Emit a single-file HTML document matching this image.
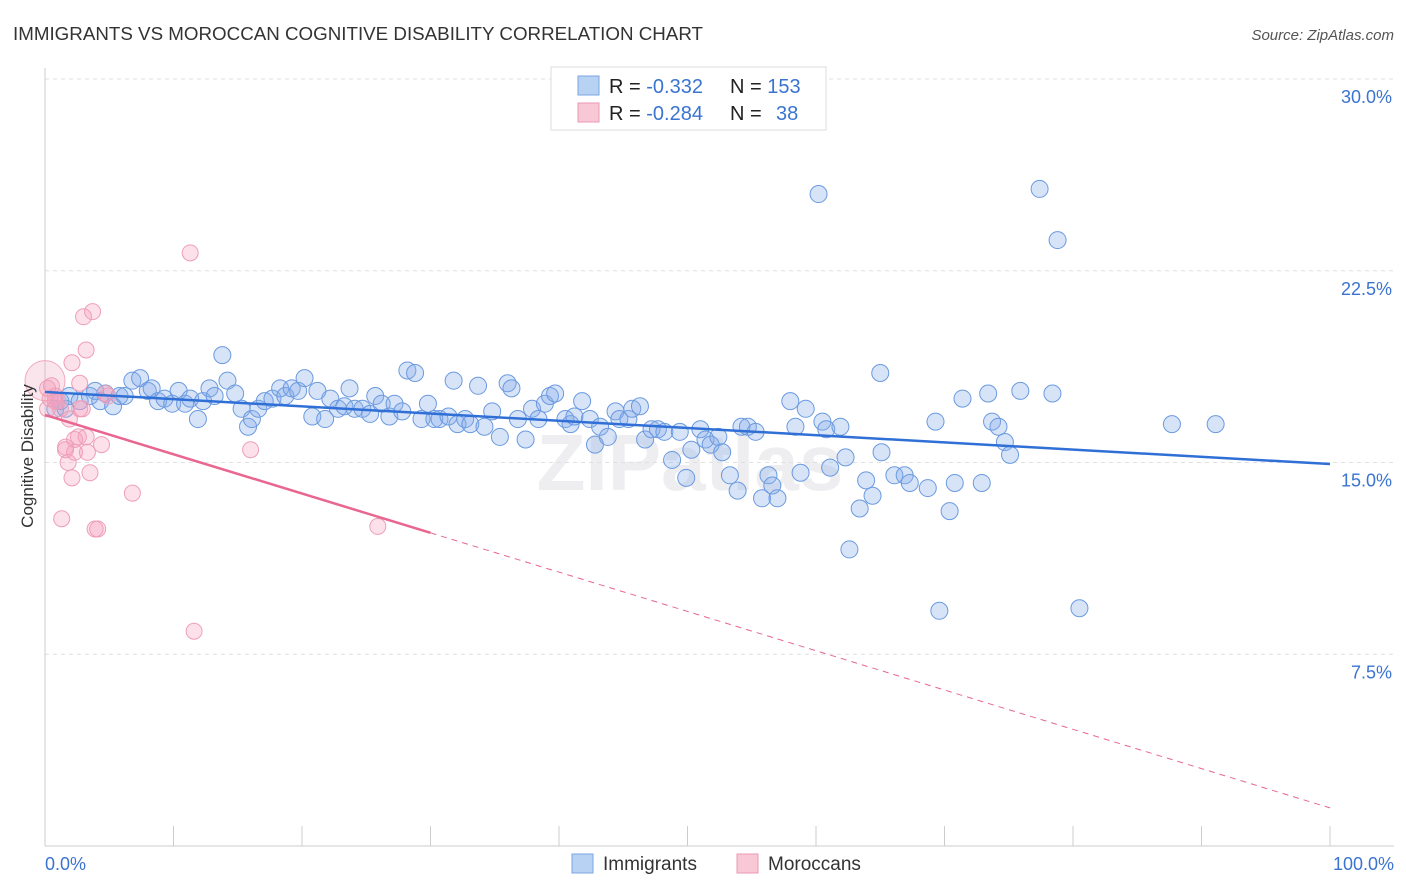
<!DOCTYPE html>
<html><head><meta charset="utf-8"><style>
body{margin:0;background:#fff;font-family:"Liberation Sans",sans-serif;}
svg{display:block}
</style></head><body>
<svg id="chart" width="1406" height="892" xmlns="http://www.w3.org/2000/svg">
<text x="13" y="40" font-size="18" fill="#333" textLength="690" lengthAdjust="spacingAndGlyphs">IMMIGRANTS VS MOROCCAN COGNITIVE DISABILITY CORRELATION CHART</text>
<text x="1394" y="40" font-size="15" fill="#555" font-style="italic" text-anchor="end">Source: ZipAtlas.com</text>
<text x="690" y="490" font-size="80" fill="#eeeef1" text-anchor="middle" font-weight="bold">ZIPatlas</text>
<g id="grid"></g><g id="axes"></g><g id="marks"></g>
<text transform="translate(33,456) rotate(-90)" font-size="17" fill="#333" text-anchor="middle">Cognitive Disability</text>
<text x="45" y="870" font-size="18" fill="#3a74d0">0.0%</text>
<text x="1394" y="870" font-size="18" fill="#3a74d0" text-anchor="end">100.0%</text>
<g>
<rect x="551" y="67" width="275" height="63" fill="#fff" stroke="#ddd"/>
<rect x="578" y="76" width="21" height="19" fill="#b8d2f4" stroke="#7aa6e0"/>
<rect x="578" y="103" width="21" height="19" fill="#f9c8d6" stroke="#ec98b2"/>
<text x="609" y="93" font-size="20" fill="#222">R = <tspan fill="#3a74d0">-0.332</tspan><tspan x="730">N = </tspan><tspan fill="#3a74d0">153</tspan></text>
<text x="609" y="120" font-size="20" fill="#222">R = <tspan fill="#3a74d0">-0.284</tspan><tspan x="730">N = </tspan><tspan x="776" fill="#3a74d0">38</tspan></text>
</g>
<g>
<rect x="572" y="854" width="21" height="19" fill="#b8d2f4" stroke="#7aa6e0"/>
<text x="603" y="870" font-size="19" fill="#333">Immigrants</text>
<rect x="737" y="854" width="21" height="19" fill="#f9c8d6" stroke="#ec98b2"/>
<text x="768" y="870" font-size="19" fill="#333">Moroccans</text>
</g>
</svg>
<script>
const yTicks=[7.5,15,22.5,30];
const yTickLabels=["7.5%","15.0%","22.5%","30.0%"];
const xTicks=[0,10,20,30,40,50,60,70,80,90,100];
const blueX=[0.8,1.2,1.6,1.9,2.7,3.5,3.9,4.3,4.7,5.3,5.8,6.2,6.8,7.4,8.0,8.3,8.8,9.3,9.9,10.4,10.9,11.3,11.9,12.3,12.8,13.2,13.8,14.2,14.8,15.3,15.8,16.1,16.6,17.1,17.7,18.3,18.7,19.2,19.7,20.2,20.8,21.2,21.8,22.2,22.8,23.3,23.7,24.1,24.7,25.3,25.7,26.2,26.8,27.2,27.8,28.2,28.8,29.3,29.8,30.3,30.7,31.4,31.8,32.1,32.7,33.1,33.7,34.2,34.8,35.4,36.0,36.3,36.8,37.4,37.9,38.4,38.9,39.3,39.7,40.5,40.9,41.2,41.8,42.4,42.8,43.2,43.8,44.4,44.7,45.4,45.7,46.3,46.7,47.2,47.7,48.2,48.8,49.4,49.9,50.3,51.0,51.4,51.8,52.4,52.7,53.3,53.9,54.2,54.7,55.3,55.8,56.3,56.6,57.0,58.0,58.4,58.8,59.2,60.2,60.5,60.8,61.1,61.9,62.3,62.6,63.4,63.9,64.4,65.0,65.1,66.1,66.9,67.3,68.7,69.3,69.6,70.4,70.8,71.4,72.9,73.4,73.7,74.2,74.7,75.1,75.9,77.4,78.4,78.8,80.5,87.7,91.1];
const blueY=[17.1,17.4,17.1,17.6,17.4,17.6,17.8,17.4,17.7,17.2,17.6,17.6,18.2,18.3,17.8,17.9,17.4,17.5,17.3,17.8,17.3,17.5,16.7,17.4,17.9,17.6,19.2,18.2,17.7,17.1,16.4,16.7,17.1,17.4,17.5,17.9,17.6,17.9,17.8,18.3,16.8,17.8,16.7,17.5,17.1,17.2,17.9,17.1,17.1,16.9,17.6,17.3,16.8,17.3,17.0,18.6,18.5,16.7,17.3,16.7,16.7,16.8,18.2,16.5,16.7,16.5,18.0,16.4,17.0,16.0,18.1,17.9,16.7,15.9,17.1,16.7,17.3,17.6,17.7,16.7,16.5,16.8,17.4,16.7,15.7,16.4,16.0,17.0,16.7,16.7,17.1,17.2,15.9,16.3,16.3,16.2,15.1,16.2,14.4,15.5,16.3,15.9,15.7,16.0,15.4,14.5,13.9,16.4,16.4,16.2,13.6,14.5,14.1,13.6,17.4,16.4,14.6,17.1,25.5,16.6,16.3,14.8,16.4,15.2,11.6,13.2,14.3,13.7,18.5,15.4,14.5,14.5,14.2,14.0,16.6,9.2,13.1,14.2,17.5,14.2,17.7,16.6,16.4,15.8,15.3,17.8,25.7,17.7,23.7,9.3,16.5,16.5];
const pinkX=[0.2,0.5,0.8,1.0,1.2,1.3,1.6,1.8,1.9,2.1,2.3,2.6,2.7,2.9,3.0,3.2,3.3,3.5,3.7,3.9,4.1,4.4,4.7,4.9,6.8,11.3,11.6,16.0,25.9,0.2,0.4,1.6,2.3,2.7,3.2,2.1,0.8];
const pinkY=[17.1,18.0,17.6,17.4,17.1,12.8,15.5,15.0,16.7,14.4,15.4,16.0,18.1,17.1,20.7,16.0,15.4,14.6,20.9,12.4,12.4,15.7,17.7,17.6,13.8,23.2,8.4,15.5,12.5,17.9,17.5,15.6,15.9,17.1,19.4,18.9,17.4];
const pinkBig=[0,18.2];
const blueTrend=[17.76,14.94];
const pinkTrend=[16.86,1.49];
const pinkSolidEnd=30;

const NS="http://www.w3.org/2000/svg";
const X0=45,X1=1330,Y0=846,Y30=79;
function sx(v){return X0+(X1-X0)*v/100;}
function sy(v){return Y0-(Y0-Y30)*v/30;}
function mk(tag,attrs,parent){const e=document.createElementNS(NS,tag);for(const k in attrs)e.setAttribute(k,attrs[k]);document.getElementById(parent).appendChild(e);return e;}
yTicks.forEach((t,i)=>{
 const g=mk('line',{x1:X0,x2:1394,y1:sy(t),y2:sy(t),stroke:'#e0e0e0','stroke-dasharray':'4,4'},'grid');
 
 
 const l=mk('text',{x:1392,y:sy(t)+24,'font-size':18,fill:'#3a74d0','text-anchor':'end'},'grid');
 l.textContent=yTickLabels[i];
 
 
});
const ya=mk('line',{x1:X0,x2:X0,y1:68,y2:Y0,stroke:'#ccc'},'axes');


const xa=mk('line',{x1:X0,x2:1394,y1:Y0,y2:Y0,stroke:'#ccc'},'axes');


xTicks.forEach(t=>{
 const k=mk('line',{x1:sx(t),x2:sx(t),y1:826,y2:Y0,stroke:'#ccc'},'axes');
 
 
});
blueX.forEach((x,i)=>{
 const c=mk('circle',{cx:sx(x),cy:sy(blueY[i]),r:8.5,fill:'rgba(130,172,232,0.32)',stroke:'#6b9ae0','stroke-width':1},'marks');
 
 
});
const pb=mk('circle',{cx:sx(pinkBig[0]),cy:sy(pinkBig[1]),r:20,fill:'rgba(240,150,180,0.25)',stroke:'#f0a8c0'},'marks');


pinkX.forEach((x,i)=>{
 const c=mk('circle',{cx:sx(x),cy:sy(pinkY[i]),r:8,fill:'rgba(245,160,190,0.32)',stroke:'#ee9fb8','stroke-width':1},'marks');
 
 
});
const bt=mk('line',{x1:sx(0),y1:sy(blueTrend[0]),x2:sx(100),y2:sy(blueTrend[1]),stroke:'#2f6fd6','stroke-width':2.5},'marks');


const pm=pinkTrend[0]+(pinkTrend[1]-pinkTrend[0])*pinkSolidEnd/100;
const pt=mk('line',{x1:sx(0),y1:sy(pinkTrend[0]),x2:sx(pinkSolidEnd),y2:sy(pm),stroke:'#e8668f','stroke-width':2.5},'marks');


const pd=mk('line',{x1:sx(pinkSolidEnd),y1:sy(pm),x2:sx(100),y2:sy(pinkTrend[1]),stroke:'#e8668f','stroke-width':1,'stroke-dasharray':'6,5'},'marks');


</script>
</body></html>
